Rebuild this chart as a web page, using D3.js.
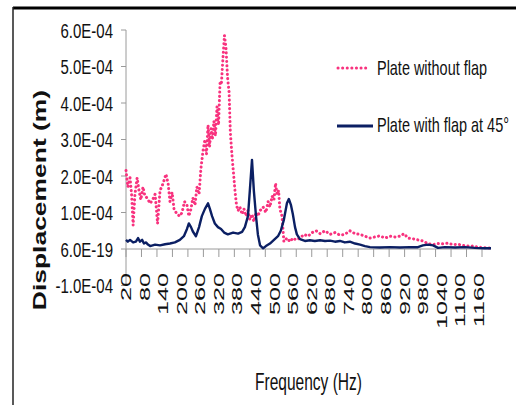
<!DOCTYPE html>
<html>
<head>
<meta charset="utf-8">
<script src="https://cdn.jsdelivr.net/npm/d3@7"></script>
<style>
  html, body { margin: 0; padding: 0; background: #fff; }
  svg { display: block; }
  text { font-family: "Liberation Sans", Arial, sans-serif; }
</style>
</head>
<body>
<svg id="chart" width="516" height="405"></svg>
<script>
// ---- Data (displacement in units of 1E-04 m) ----
const freqWithout = [20,26,33,38,43,49,56,62,68,75,81,88,98,106,114,122,130,140,149,156,162,169,175,185,194,201,209,217,223,230,236,243,249,256,262,269,275,280,285,290,295,299,304,309,314,319,324,328,333,338,343,348,353,357,362,367,372,377,382,388,395,401,408,414,420,427,433,440,446,453,463,472,479,485,492,498,503,508,513,517,524,530,540,550,559,569,582,595,608,621,634,647,663,679,695,711,727,743,760,776,792,808,824,840,857,873,889,905,918,931,947,963,979,995,1012,1028,1044,1060,1076,1092,1108,1125,1141,1157,1173,1189,1199];
const dispWithout = [2.15,1.7,1.95,1.5,0.65,1.5,1.95,1.6,1.35,1.7,1.45,1.4,1.25,1.35,1.5,0.7,1.6,1.8,2.05,1.8,1.3,1.55,1.1,0.95,0.9,1.0,1.3,1.2,0.9,1.1,1.4,1.2,1.7,1.5,2.2,2.7,3.0,2.6,3.4,2.8,3.3,3.0,3.5,3.1,3.9,3.4,4.6,4.5,5.2,5.85,5.5,4.7,4.3,3.2,2.6,2.1,1.6,1.2,1.05,1.15,0.95,1.1,0.9,1.05,0.8,0.95,0.75,1.0,0.9,1.05,1.15,1.0,1.3,1.15,1.45,1.35,1.8,1.5,1.6,1.1,0.9,0.2,0.3,0.2,0.3,0.25,0.3,0.4,0.35,0.45,0.5,0.42,0.5,0.4,0.45,0.38,0.4,0.5,0.42,0.4,0.35,0.3,0.33,0.36,0.3,0.35,0.33,0.35,0.42,0.3,0.28,0.25,0.22,0.15,0.12,0.15,0.14,0.16,0.12,0.13,0.1,0.08,0.08,0.05,0.04,0.03,0.02];

const freqWith = [20,26,33,43,52,59,65,72,78,85,91,98,114,130,146,162,178,194,207,217,223,230,236,246,256,265,275,285,291,298,307,317,327,337,349,366,382,395,404,414,420,427,433,440,446,453,463,472,485,498,511,520,530,540,546,553,559,566,572,582,598,614,630,647,663,679,695,711,727,743,760,776,792,808,840,873,905,937,963,979,995,1012,1028,1050,1083,1115,1147,1179,1199];
const dispWith = [0.25,0.2,0.25,0.18,0.2,0.3,0.2,0.25,0.15,0.18,0.12,0.08,0.12,0.1,0.13,0.15,0.18,0.25,0.35,0.55,0.7,0.6,0.48,0.35,0.6,0.9,1.1,1.25,1.1,0.9,0.7,0.6,0.55,0.45,0.4,0.45,0.42,0.47,0.6,0.9,1.6,2.44,1.6,0.9,0.4,0.1,0.02,0.08,0.15,0.25,0.35,0.5,0.8,1.26,1.37,1.2,0.95,0.6,0.4,0.27,0.22,0.24,0.22,0.24,0.22,0.23,0.2,0.22,0.18,0.2,0.15,0.12,0.08,0.05,0.04,0.05,0.04,0.05,0.05,0.1,0.12,0.1,0.03,0.05,0.04,0.05,0.03,0.02,0.02];

const seriesNames = ["Plate without flap", "Plate with flap at 45\u00B0"];
const yTickValues = [-1, 0, 1, 2, 3, 4, 5, 6];
const yTickLabels = ["-1.0E-04", "6.0E-19", "1.0E-04", "2.0E-04", "3.0E-04", "4.0E-04", "5.0E-04", "6.0E-04"];
const xLabelValues = d3.range(20, 1161, 60);
const xTickValues = d3.range(20, 1171, 50);
const xTitle = "Frequency (Hz)";
const yTitle = "Displacement (m)";

// ---- Layout ----
const svg = d3.select("#chart");
const pink = "#F8327E", navy = "#0B1F63";

const x = d3.scaleLinear().domain([20, 1170]).range([126, 482]);
const y = d3.scaleLinear().domain([-1, 6]).range([285.5, 30]);

function stretchedText(g, str, px, py, opts) {
  const size = opts.size, sy = opts.sy || 1, rot = opts.rotate || 0;
  const t = g.append("text")
    .attr("transform", `translate(${px},${py}) scale(1,${sy}) rotate(${rot})`)
    .attr("font-size", size)
    .attr("fill", opts.fill || "#111")
    .attr("font-weight", opts.weight || "normal")
    .attr("text-anchor", opts.anchor || "start")
    .attr("y", opts.dy || 0)
    .text(str);
  if (opts.len) {
    t.attr("textLength", opts.len).attr("lengthAdjust", "spacingAndGlyphs");
  }
  return t;
}

// frame
svg.append("line").attr("x1", 13).attr("x2", 516).attr("y1", 8).attr("y2", 8)
  .attr("stroke", "#000").attr("stroke-width", 3);
svg.append("line").attr("x1", 13).attr("x2", 13).attr("y1", 7).attr("y2", 405)
  .attr("stroke", "#222").attr("stroke-width", 1.5);

// y axis
const axisColor = "#9a9a9a";
const gy = svg.append("g");
gy.append("line").attr("x1", x(20)).attr("x2", x(20)).attr("y1", y(6)).attr("y2", y(-1))
  .attr("stroke", axisColor).attr("stroke-width", 1);
yTickValues.forEach((v, i) => {
  gy.append("line").attr("x1", x(20) - 5).attr("x2", x(20)).attr("y1", y(v)).attr("y2", y(v))
    .attr("stroke", axisColor).attr("stroke-width", 1);
  stretchedText(gy, yTickLabels[i], 113, y(v), {size: 15, sy: 1.4, anchor: "end", dy: 5.4});
});

// x axis at zero
const gx = svg.append("g");
gx.append("line").attr("x1", x(20)).attr("x2", 491).attr("y1", y(0)).attr("y2", y(0))
  .attr("stroke", axisColor).attr("stroke-width", 1);
xTickValues.forEach(v => {
  gx.append("line").attr("x1", x(v)).attr("x2", x(v)).attr("y1", y(0)).attr("y2", y(0) + 8)
    .attr("stroke", axisColor).attr("stroke-width", 1);
});
xLabelValues.forEach(v => {
  stretchedText(gx, String(v), x(v), 273, {size: 14, sy: 1.8, rotate: -90, anchor: "end", dy: 5});
});

// titles
stretchedText(svg, yTitle, 40, 200, {size: 18, sy: 1.47, rotate: -90, anchor: "middle", dy: 6.4, weight: "bold"});
stretchedText(svg, xTitle, 255, 390, {size: 16, sy: 1.45, len: 107});

// series
const line = d3.line().x(d => x(d[0])).y(d => y(d[1]));
const dataWithout = freqWithout.map((f, i) => [f, dispWithout[i]]);
const dataWith = freqWith.map((f, i) => [f, dispWith[i]]);

svg.append("path").datum(dataWithout).attr("d", line)
  .attr("fill", "none").attr("stroke", pink).attr("stroke-width", 3)
  .attr("stroke-linecap", "round").attr("stroke-dasharray", "0.1,4.2");
svg.append("path").datum(dataWith).attr("d", line)
  .attr("fill", "none").attr("stroke", navy).attr("stroke-width", 2.4)
  .attr("stroke-linejoin", "round");

// legend
const lg = svg.append("g");
lg.append("line").attr("x1", 338).attr("x2", 370).attr("y1", 68).attr("y2", 68)
  .attr("stroke", pink).attr("stroke-width", 3).attr("stroke-linecap", "round")
  .attr("stroke-dasharray", "0.1,4.5");
stretchedText(lg, seriesNames[0], 377, 75, {size: 14.5, sy: 1.45, len: 110});
lg.append("line").attr("x1", 337).attr("x2", 373).attr("y1", 126).attr("y2", 126)
  .attr("stroke", navy).attr("stroke-width", 2.8);
stretchedText(lg, seriesNames[1], 377, 132, {size: 14.5, sy: 1.45, len: 132});
</script>
</body>
</html>
